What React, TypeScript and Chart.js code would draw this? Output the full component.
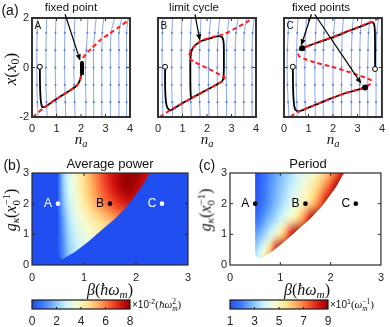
import React, { useEffect, useRef } from "react";
import { Chart, registerables } from "chart.js";

Chart.register(...registerables);

const W = 390;
const H = 327;
const SANS = '"Liberation Sans", Arial, Helvetica, sans-serif';
const SERIF = '"Liberation Serif", "Times New Roman", serif';
const TICK_COLOR = "#262626";

// ================= DATA =================
// ---- (a) phase portraits: n_a (x axis) vs x (y axis) ----
const phaseTicksX = [0, 1, 2, 3, 4];
const phaseTicksY = [-2, 0, 2];
const streamLevels = [-2, -1.4, -0.7, 0, 0.7, 1.4, 2];

const streamA = [
  [0.25, 0.22, 0.2, 0.2, 0.2, 0.21, 0.22],
  [0.62, 0.59, 0.57, 0.57, 0.57, 0.58, 0.6],
  [1.0, 0.98, 0.96, 0.95, 0.95, 0.96, 0.98],
  [1.38, 1.36, 1.34, 1.33, 1.33, 1.34, 1.36],
  [1.76, 1.74, 1.72, 1.71, 1.72, 1.73, 1.75],
  [2.2, 2.2, 2.19, 2.18, 2.22, 2.26, 2.28],
  [2.52, 2.52, 2.51, 2.51, 2.51, 2.56, 2.62],
  [2.85, 2.85, 2.85, 2.85, 2.85, 2.87, 2.93],
  [3.2, 3.2, 3.2, 3.2, 3.2, 3.23, 3.37],
  [3.55, 3.55, 3.55, 3.55, 3.55, 3.55, 3.66],
  [3.86, 3.86, 3.86, 3.86, 3.86, 3.86, 3.92],
];
const streamB = [
  [0.2, 0.19, 0.17, 0.17, 0.17, 0.18, 0.2],
  [0.6, 0.58, 0.56, 0.56, 0.56, 0.57, 0.59],
  [1.0, 0.97, 0.95, 0.95, 0.95, 0.96, 0.98],
  [1.36, 1.34, 1.32, 1.31, 1.31, 1.33, 1.36],
  [1.72, 1.7, 1.68, 1.68, 1.7, 1.72, 1.76],
  [2.08, 2.07, 2.06, 2.06, 2.07, 2.1, 2.15],
  [2.44, 2.43, 2.42, 2.42, 2.43, 2.46, 2.52],
  [2.8, 2.8, 2.79, 2.79, 2.8, 2.83, 2.9],
  [3.15, 3.15, 3.15, 3.15, 3.15, 3.18, 3.27],
  [3.5, 3.5, 3.5, 3.5, 3.5, 3.52, 3.62],
  [3.84, 3.84, 3.84, 3.84, 3.84, 3.86, 3.93],
];
const streamC = [
  [0.2, 0.17, 0.14, 0.13, 0.14, 0.17, 0.2],
  [0.54, 0.52, 0.5, 0.5, 0.52, 0.54, 0.57],
  [0.88, 0.86, 0.85, 0.85, 0.86, 0.88, 0.92],
  [1.28, 1.27, 1.26, 1.26, 1.27, 1.29, 1.33],
  [1.61, 1.6, 1.6, 1.6, 1.61, 1.63, 1.67],
  [2.0, 2.0, 2.0, 2.0, 2.01, 2.03, 2.08],
  [2.35, 2.35, 2.35, 2.35, 2.36, 2.38, 2.43],
  [2.75, 2.75, 2.75, 2.75, 2.76, 2.78, 2.83],
  [3.09, 3.09, 3.09, 3.09, 3.1, 3.12, 3.18],
  [3.42, 3.42, 3.42, 3.42, 3.43, 3.45, 3.52],
  [3.76, 3.76, 3.76, 3.76, 3.77, 3.79, 3.86],
];

// red dashed nullclines
const nullA_n = [0.04, 0.5, 1.0, 1.5, 1.85, 1.97, 2.02, 2.03, 2.08, 2.3, 2.44, 2.78, 3.18, 3.52, 3.9, 4.0];
const nullA_x = [-2, -1.62, -1.27, -0.95, -0.7, -0.48, -0.2, 0.1, 0.38, 0.65, 0.78, 1.1, 1.38, 1.61, 1.88, 1.95];
const nullB_n = [0.07, 0.5, 1.0, 1.5, 2.0, 2.45, 2.68, 2.72, 2.55, 2.0, 1.5, 1.32, 1.28, 1.36, 1.5, 1.75, 2.2, 2.7, 3.2, 3.6, 3.93];
const nullB_x = [-2, -1.72, -1.45, -1.17, -0.9, -0.66, -0.52, -0.4, -0.3, -0.02, 0.22, 0.35, 0.5, 0.72, 0.88, 1.08, 1.22, 1.35, 1.6, 1.82, 2.02];
const nullC_n = [0.27, 0.6, 1.0, 1.5, 2.0, 2.5, 3.0, 3.31, 3.5, 3.58, 3.5, 3.0, 2.62, 1.95, 1.28, 0.8, 0.62, 0.58, 0.62, 0.74, 1.2, 1.7, 2.21, 2.7, 3.2, 3.6, 3.88];
const nullC_x = [-1.98, -1.78, -1.62, -1.42, -1.22, -1.04, -0.9, -0.81, -0.68, -0.55, -0.48, -0.3, -0.17, 0.03, 0.2, 0.36, 0.45, 0.58, 0.7, 0.78, 0.95, 1.13, 1.32, 1.5, 1.7, 1.85, 2.0];

// black trajectories
const trajA_n = [0.32, 0.33, 0.36, 0.42, 0.55, 1.0, 1.5, 1.85, 1.97, 2.02, 2.03];
const trajA_x = [0.03, -0.8, -1.35, -1.6, -1.58, -1.27, -0.96, -0.71, -0.47, -0.2, 0.12];
const blobA_n = [2.03, 2.04, 2.04];
const blobA_x = [-0.22, 0, 0.18];
const trajB_n = [0.29, 0.29, 0.32, 0.38, 0.5, 0.9, 1.34, 2.0, 2.45, 2.64, 2.68, 2.69, 2.68, 2.62, 2.45, 2.2, 1.75, 1.5, 1.38, 1.33, 1.32, 1.33, 1.36, 1.5];
const trajB_x = [0.03, -0.8, -1.35, -1.62, -1.73, -1.5, -1.25, -0.9, -0.66, -0.52, -0.3, 0.4, 1.0, 1.22, 1.27, 1.2, 1.06, 0.88, 0.7, 0.45, -0.2, -1.0, -1.22, -1.16];
const trajC1_n = [0.36, 0.37, 0.4, 0.46, 0.6, 1.0, 1.5, 2.0, 2.5, 3.0, 3.31];
const trajC1_x = [0.03, -0.8, -1.4, -1.7, -1.78, -1.62, -1.42, -1.22, -1.04, -0.9, -0.81];
const trajC2_n = [3.72, 3.72, 3.71, 3.68, 3.6, 3.2, 2.7, 2.2, 1.7, 1.2, 0.74];
const trajC2_x = [-0.06, 0.8, 1.5, 1.75, 1.83, 1.68, 1.5, 1.3, 1.12, 0.95, 0.78];

// start points (open circles) and fixed points (filled)
const openA_n = [0.32];
const openA_x = [0.03];
const openB_n = [0.29];
const openB_x = [0.03];
const openC_n = [0.36, 3.72];
const openC_x = [0.03, -0.06];
const fixedC_n = [0.74, 3.31];
const fixedC_x = [0.78, -0.81];

// annotation arrows (tail above the frame, head in the plot), data coordinates
const arrowA = { tailN: [1.35], tailX: [2.15], headN: [1.97], headX: [0.27] };
const arrowB = { tailN: [1.51], tailX: [2.15], headN: [1.71], headX: [1.08] };
const arrowC = { tailN: [1.12, 1.25], tailX: [2.15, 2.15], headN: [0.7, 3.16], headX: [0.88, -0.66] };

// ---- (b), (c) maps over beta (x) and g_kappa (y) ----
const mapTicks = [0, 1, 2, 3];
const gridBeta = [0.5, 0.6, 0.7, 0.8, 0.9, 1.0, 1.1, 1.2, 1.3, 1.4, 1.5, 1.6, 1.7, 1.8, 1.9, 2.0, 2.1, 2.2, 2.3];
const gridG = [0, 0.5, 1.0, 1.5, 2.0, 2.5, 3.0];
// average power (x10^-2), rows follow gridG
const powerValues = [
  [0.2, 1.0, 1.8, 2.3, 2.6, 2.8, 3.0, 3.2, 3.4, 3.6, 3.8, 4.0, 4.2, 4.4, 4.6, 4.8, 5.0, 5.2, 5.4],
  [0.2, 1.2, 2.0, 2.5, 2.8, 3.0, 3.2, 3.4, 3.6, 3.8, 4.0, 4.2, 4.4, 4.6, 4.8, 5.0, 5.2, 5.4, 5.6],
  [0.2, 1.3, 2.2, 2.7, 3.1, 3.4, 3.7, 3.9, 4.1, 4.3, 4.5, 4.7, 4.9, 5.1, 5.3, 5.5, 5.7, 5.9, 6.0],
  [0.2, 1.5, 2.4, 3.0, 3.4, 3.8, 4.1, 4.4, 4.7, 5.0, 5.3, 5.6, 5.8, 6.0, 6.2, 6.3, 6.4, 6.5, 6.5],
  [0.3, 1.8, 2.7, 3.3, 3.8, 4.3, 4.8, 5.3, 5.7, 6.1, 6.4, 6.7, 7.0, 7.2, 7.3, 7.3, 7.2, 7.1, 7.0],
  [0.3, 2.0, 2.9, 3.5, 4.0, 4.6, 5.1, 5.6, 6.1, 6.6, 7.0, 7.4, 7.7, 7.9, 7.9, 7.7, 7.5, 7.3, 7.1],
  [0.3, 2.2, 3.0, 3.6, 4.2, 4.7, 5.2, 5.8, 6.3, 6.8, 7.2, 7.5, 7.8, 8.0, 8.0, 7.9, 7.7, 7.5, 7.3],
];
// period (x10^1), rows follow gridG
const periodValues = [
  [3.8, 4.8, 6.2, 8.0, 9, 9, 9, 9, 9, 9, 9, 9, 9, 9, 9, 9, 9, 9, 9],
  [3.2, 3.8, 4.6, 6.0, 8.0, 9, 9, 9, 9, 9, 9, 9, 9, 9, 9, 9, 9, 9, 9],
  [2.4, 2.8, 3.3, 3.9, 4.6, 5.4, 6.5, 8.0, 9, 9, 9, 9, 9, 9, 9, 9, 9, 9, 9],
  [1.6, 2.0, 2.5, 2.9, 3.3, 3.8, 4.3, 4.8, 5.4, 6.2, 7.2, 8.6, 9, 9, 9, 9, 9, 9, 9],
  [1.2, 1.6, 2.0, 2.4, 2.8, 3.2, 3.6, 4.0, 4.4, 4.8, 5.2, 5.8, 6.5, 7.4, 8.5, 9, 9, 9, 9],
  [1.1, 1.5, 1.9, 2.3, 2.6, 3.0, 3.3, 3.7, 4.0, 4.4, 4.8, 5.2, 5.7, 6.3, 7.0, 7.8, 8.8, 9, 9],
  [1.0, 1.4, 1.8, 2.2, 2.5, 2.8, 3.1, 3.4, 3.7, 4.0, 4.3, 4.6, 5.0, 5.4, 5.9, 6.5, 7.2, 8.0, 8.8],
];
// oscillating region outline (beta, g)
const regionBeta = [0.5, 2.27, 2.24, 2.11, 1.92, 1.79, 1.6, 1.34, 1.08, 0.83, 0.65, 0.58, 0.52, 0.5];
const regionG = [3, 3, 2.93, 2.55, 2.12, 1.85, 1.52, 1.14, 0.76, 0.43, 0.25, 0.18, 0.28, 0.4];
// marked parameter points
const pointNames = ["A", "B", "C"];
const pointBeta = [0.5, 1.5, 2.5];
const pointG = [2, 2, 2];
// colour bar ticks
const powerBarTicks = [0, 2, 4, 6, 8];
const periodBarTicks = [1, 3, 5, 7, 9];

// ================= STYLE =================
const CMAP = [
  [0.0, 32, 78, 240],
  [0.12, 62, 125, 255],
  [0.24, 135, 195, 255],
  [0.35, 205, 245, 250],
  [0.46, 246, 252, 212],
  [0.58, 255, 226, 142],
  [0.7, 255, 160, 86],
  [0.82, 245, 76, 40],
  [0.92, 210, 16, 14],
  [1.0, 150, 0, 0],
];
function cmap(t: number) {
  const v = Math.max(0, Math.min(1, t));
  for (let i = 1; i < CMAP.length; i++) {
    if (v <= CMAP[i][0]) {
      const a = CMAP[i - 1];
      const b = CMAP[i];
      const f = (v - a[0]) / (b[0] - a[0]);
      return [0, 1, 2].map((k) => Math.round(a[k + 1] + (b[k + 1] - a[k + 1]) * f));
    }
  }
  const l = CMAP[CMAP.length - 1];
  return [l[1], l[2], l[3]];
}
const BLUE_BG = `rgb(${CMAP[0][1]},${CMAP[0][2]},${CMAP[0][3]})`;
const STREAM = "rgba(70,115,215,0.8)";

// ================= PLUGINS =================
const framePlugin = {
  id: "frame",
  afterDatasetsDraw(chart: any, _a: any, o: any) {
    const { ctx, chartArea: a, scales } = chart;
    ctx.save();
    ctx.strokeStyle = o.color || "#333";
    ctx.lineWidth = 1;
    const seg = (x1: number, y1: number, x2: number, y2: number) => {
      ctx.beginPath();
      ctx.moveTo(x1, y1);
      ctx.lineTo(x2, y2);
      ctx.stroke();
    };
    const tl = o.tick || 0;
    if (tl) {
      const xs = scales.x;
      xs.ticks.forEach((t: any) => {
        const px = xs.getPixelForValue(t.value);
        if (px <= a.left + 1 || px >= a.right - 1) return;
        seg(px, a.bottom, px, a.bottom - tl);
        if (!o.bottomOnly) seg(px, a.top, px, a.top + tl);
      });
      if (!o.bottomOnly) {
        const ys = scales.y;
        ys.ticks.forEach((t: any) => {
          const py = ys.getPixelForValue(t.value);
          if (py <= a.top + 1 || py >= a.bottom - 1) return;
          seg(a.left, py, a.left + tl, py);
          seg(a.right, py, a.right - tl, py);
        });
      }
    }
    ctx.lineWidth = o.width || 1;
    ctx.strokeRect(a.left, a.top, a.right - a.left, a.bottom - a.top);
    ctx.restore();
  },
};

const arrowPlugin = {
  id: "arrows",
  afterDraw(chart: any, _a: any, o: any) {
    const { ctx, chartArea: a, scales } = chart;
    const x = scales.x;
    const y = scales.y;
    ctx.save();
    ctx.strokeStyle = "#000";
    ctx.fillStyle = "#000";
    ctx.lineWidth = 1.2;
    o.tailN.forEach((tn: number, i: number) => {
      const x1 = x.getPixelForValue(tn);
      const y1 = y.getPixelForValue(o.tailX[i]);
      const x2 = x.getPixelForValue(o.headN[i]);
      const y2 = y.getPixelForValue(o.headX[i]);
      const ang = Math.atan2(y2 - y1, x2 - x1);
      const hl = 6.5;
      const hw = 2.6;
      const bx = x2 - hl * Math.cos(ang);
      const by = y2 - hl * Math.sin(ang);
      ctx.beginPath();
      ctx.moveTo(x1, y1);
      ctx.lineTo(bx, by);
      ctx.stroke();
      ctx.beginPath();
      ctx.moveTo(x2, y2);
      ctx.lineTo(bx + hw * Math.sin(ang), by - hw * Math.cos(ang));
      ctx.lineTo(bx - hw * Math.sin(ang), by + hw * Math.cos(ang));
      ctx.closePath();
      ctx.fill();
    });
    if (o.letter) {
      ctx.font = `10px ${SANS}`;
      ctx.textAlign = "left";
      ctx.textBaseline = "top";
      ctx.fillStyle = "#111";
      ctx.fillText(o.letter, a.left + 2.5, a.top + 3);
    }
    ctx.restore();
  },
};

const heatPlugin = {
  id: "heat",
  beforeDatasetsDraw(chart: any, _a: any, o: any) {
    const { ctx, chartArea: a, scales } = chart;
    const x = scales.x;
    const y = scales.y;
    ctx.save();
    ctx.beginPath();
    ctx.rect(a.left, a.top, a.right - a.left, a.bottom - a.top);
    ctx.clip();
    if (o.background) {
      ctx.fillStyle = o.background;
      ctx.fillRect(a.left, a.top, a.right - a.left, a.bottom - a.top);
    }
    ctx.beginPath();
    regionBeta.forEach((b, i) => {
      const px = x.getPixelForValue(b);
      const py = y.getPixelForValue(regionG[i]);
      if (i) ctx.lineTo(px, py);
      else ctx.moveTo(px, py);
    });
    ctx.closePath();
    ctx.clip();
    const cols = gridBeta.length;
    const rows = gridG.length;
    const off = document.createElement("canvas");
    off.width = cols;
    off.height = rows;
    const octx = off.getContext("2d")!;
    const img = octx.createImageData(cols, rows);
    for (let r = 0; r < rows; r++) {
      const vals = o.values[rows - 1 - r];
      for (let c = 0; c < cols; c++) {
        const col = cmap((vals[c] - o.vmin) / (o.vmax - o.vmin));
        const k = (r * cols + c) * 4;
        img.data[k] = col[0];
        img.data[k + 1] = col[1];
        img.data[k + 2] = col[2];
        img.data[k + 3] = 255;
      }
    }
    octx.putImageData(img, 0, 0);
    const dx = (gridBeta[cols - 1] - gridBeta[0]) / (cols - 1);
    const dy = (gridG[rows - 1] - gridG[0]) / (rows - 1);
    const x0 = x.getPixelForValue(gridBeta[0] - dx / 2);
    const x1 = x.getPixelForValue(gridBeta[cols - 1] + dx / 2);
    const yTop = y.getPixelForValue(gridG[rows - 1] + dy / 2);
    const yBot = y.getPixelForValue(gridG[0] - dy / 2);
    ctx.imageSmoothingEnabled = true;
    (ctx as any).imageSmoothingQuality = "high";
    ctx.drawImage(off, x0, yTop, x1 - x0, yBot - yTop);
    ctx.restore();
  },
};

const pointLabelPlugin = {
  id: "ptlabels",
  afterDatasetsDraw(chart: any, _a: any, o: any) {
    const { ctx, scales } = chart;
    ctx.save();
    ctx.font = `12px ${SANS}`;
    ctx.textAlign = "center";
    ctx.textBaseline = "middle";
    pointNames.forEach((n, i) => {
      ctx.fillStyle = o.colors[i];
      ctx.fillText(n, scales.x.getPixelForValue(pointBeta[i]) - 10, scales.y.getPixelForValue(pointG[i]) + 0.5);
    });
    ctx.restore();
  },
};

const cbarPlugin = {
  id: "cbar",
  beforeDatasetsDraw(chart: any) {
    const { ctx, chartArea: a } = chart;
    const g = ctx.createLinearGradient(a.left, 0, a.right, 0);
    CMAP.forEach((s) => g.addColorStop(s[0], `rgb(${s[1]},${s[2]},${s[3]})`));
    ctx.save();
    ctx.fillStyle = g;
    ctx.fillRect(a.left, a.top, a.right - a.left, a.bottom - a.top);
    ctx.restore();
  },
};

// ================= CONFIG HELPERS =================
function pad(L: number, T: number, R: number, B: number, yw: number, xh: number) {
  return { left: L - yw, top: T, right: W - R, bottom: H - B - xh };
}

function axis(min: number, max: number, ticks: number[], o: any) {
  return {
    type: "linear",
    min,
    max,
    display: o.display !== false,
    afterBuildTicks: (s: any) => {
      s.ticks = ticks.map((v) => ({ value: v }));
    },
    grid: { display: false, drawTicks: false },
    border: { display: false },
    ticks: {
      display: o.show !== false,
      padding: o.pad,
      autoSkip: false,
      maxRotation: 0,
      minRotation: 0,
      color: TICK_COLOR,
      font: { family: SANS, size: o.size || 11 },
    },
    afterFit: (s: any) => {
      if (o.w !== undefined) s.width = o.w;
      if (o.h !== undefined) s.height = o.h;
    },
  };
}

function pts(xs: number[], ys: number[]) {
  return xs.map((v, i) => ({ x: v, y: ys[i] }));
}

function baseOptions(padding: any, scales: any, plugins: any) {
  return {
    animation: false,
    responsive: false,
    maintainAspectRatio: false,
    events: [],
    layout: { padding },
    scales,
    plugins: { legend: { display: false }, tooltip: { enabled: false }, title: { display: false }, ...plugins },
  };
}

function phaseConfig(p: any) {
  const datasets: any[] = [];
  if (p.fixedN) {
    datasets.push({
      data: pts(p.fixedN, p.fixedX),
      pointRadius: 3,
      pointBackgroundColor: "#000",
      pointBorderWidth: 0,
      showLine: false,
    });
  }
  datasets.push({
    data: pts(p.openN, p.openX),
    pointRadius: 2.5,
    pointBackgroundColor: "#fff",
    pointBorderColor: "#000",
    pointBorderWidth: 1,
    showLine: false,
  });
  if (p.blobN) {
    datasets.push({
      data: pts(p.blobN, p.blobX),
      showLine: true,
      borderColor: "#000",
      borderWidth: 4,
      borderCapStyle: "round",
      pointRadius: 0,
    });
  }
  datasets.push({
    data: pts(p.nullN, p.nullX),
    showLine: true,
    borderColor: "#ff1e1e",
    borderWidth: 2,
    borderDash: [4.5, 3],
    pointRadius: 0,
    tension: 0.25,
  });
  p.trajs.forEach((t: any) => {
    datasets.push({
      data: pts(t[0], t[1]),
      showLine: true,
      borderColor: "#000",
      borderWidth: 1.8,
      pointRadius: 0,
      tension: 0.2,
    });
  });
  p.stream.forEach((ns: number[]) => {
    datasets.push({
      data: pts(ns, streamLevels),
      showLine: true,
      borderColor: STREAM,
      borderWidth: 0.8,
      pointRadius: streamLevels.map((_, i) => (i === 0 || i === streamLevels.length - 1 ? 0 : 1.1)),
      pointBackgroundColor: STREAM,
      pointBorderWidth: 0,
      tension: 0.3,
    });
  });
  return {
    type: "scatter",
    data: { datasets },
    options: baseOptions(
      pad(p.L, 18, p.R, 117, 30, 20),
      {
        x: axis(0, 4, phaseTicksX, { pad: 5, h: 20 }),
        y: axis(-2, 2, phaseTicksY, { pad: 3, w: 30, show: p.showY }),
      },
      {
        frame: { width: 2, color: "#333", tick: 3 },
        arrows: { ...p.arrows, letter: p.letter },
      }
    ),
    plugins: [framePlugin, arrowPlugin],
  };
}

function mapConfig(m: any) {
  return {
    type: "scatter",
    data: {
      datasets: [
        {
          data: pts(pointBeta, pointG),
          pointRadius: 2.3,
          pointBackgroundColor: m.pointColors,
          pointBorderWidth: 0,
          showLine: false,
        },
      ],
    },
    options: baseOptions(
      pad(m.L, 173, m.R, 265, 30, 20),
      {
        x: axis(0, 3, mapTicks, { pad: 6, h: 20 }),
        y: axis(0, 3, mapTicks, { pad: 3, w: 30 }),
      },
      {
        heat: { values: m.values, vmin: m.vmin, vmax: m.vmax, background: m.background },
        frame: { width: 1.2, color: "#2a2a2a", tick: 3 },
        ptlabels: { colors: m.pointColors },
      }
    ),
    plugins: [heatPlugin, framePlugin, pointLabelPlugin],
  };
}

function barConfig(b: any) {
  return {
    type: "scatter",
    data: { datasets: [] },
    options: baseOptions(
      { left: b.L, top: 300, right: W - b.R, bottom: H - 309 - 16 },
      {
        x: axis(b.min, b.max, b.ticks, { pad: 5, h: 16, size: 12 }),
        y: axis(0, 1, [0, 1], { display: false }),
      },
      { frame: { width: 1.2, color: "#1a1a1a", tick: 2, bottomOnly: true } }
    ),
    plugins: [cbarPlugin, framePlugin],
  };
}

const layers = [
  () =>
    phaseConfig({
      L: 32, R: 130, stream: streamA, nullN: nullA_n, nullX: nullA_x,
      trajs: [[trajA_n, trajA_x]], blobN: blobA_n, blobX: blobA_x,
      openN: openA_n, openX: openA_x, arrows: arrowA, letter: "A", showY: true,
    }),
  () =>
    phaseConfig({
      L: 158, R: 256, stream: streamB, nullN: nullB_n, nullX: nullB_x,
      trajs: [[trajB_n, trajB_x]], openN: openB_n, openX: openB_x,
      arrows: arrowB, letter: "B", showY: false,
    }),
  () =>
    phaseConfig({
      L: 284, R: 383, stream: streamC, nullN: nullC_n, nullX: nullC_x,
      trajs: [[trajC1_n, trajC1_x], [trajC2_n, trajC2_x]], openN: openC_n, openX: openC_x,
      fixedN: fixedC_n, fixedX: fixedC_x, arrows: arrowC, letter: "C", showY: false,
    }),
  () =>
    mapConfig({
      L: 32, R: 188, values: powerValues, vmin: 0, vmax: 8, background: BLUE_BG,
      pointColors: ["#fff", "#000", "#fff"],
    }),
  () =>
    mapConfig({
      L: 230, R: 385, values: periodValues, vmin: 1, vmax: 9, background: null,
      pointColors: ["#000", "#000", "#000"],
    }),
  () => barConfig({ L: 32, R: 130, min: 0, max: 8, ticks: powerBarTicks }),
  () => barConfig({ L: 230, R: 328, min: 1, max: 9, ticks: periodBarTicks }),
];

// ================= COMPONENTS =================
function ChartLayer({ make }: { make: () => any }) {
  const ref = useRef<HTMLCanvasElement>(null);
  useEffect(() => {
    const chart = new Chart(ref.current as HTMLCanvasElement, make());
    return () => chart.destroy();
  }, []);
  return (
    <canvas
      ref={ref}
      width={W}
      height={H}
      style={{ position: "absolute", left: 0, top: 0, width: W, height: H }}
    />
  );
}

function T({ x, y, size = 12, serif = false, italic = false, rot = false, left = false, children }: any) {
  const tf = (left ? "translate(0,-50%)" : "translate(-50%,-50%)") + (rot ? " rotate(-90deg)" : "");
  return (
    <div
      style={{
        position: "absolute",
        left: x,
        top: y,
        transform: tf,
        fontSize: size,
        fontFamily: serif ? SERIF : SANS,
        fontStyle: italic ? "italic" : "normal",
        whiteSpace: "nowrap",
        lineHeight: 1,
        color: "#111",
      }}
    >
      {children}
    </div>
  );
}

const Sub = ({ children }: any) => (
  <span style={{ fontSize: "0.7em", verticalAlign: "-0.3em", lineHeight: 0 }}>{children}</span>
);
const Sup = ({ children }: any) => (
  <span style={{ fontSize: "0.7em", verticalAlign: "0.55em", lineHeight: 0 }}>{children}</span>
);
const SubSup = ({ sub, sup }: any) => (
  <span
    style={{
      display: "inline-flex",
      flexDirection: "column",
      fontSize: "0.68em",
      lineHeight: 0.95,
      verticalAlign: "0.55em",
      fontStyle: "normal",
    }}
  >
    <span>{sup}</span>
    <span>{sub}</span>
  </span>
);

const I = ({ children }: any) => <i>{children}</i>;

export default function App() {
  return (
    <div
      style={{
        position: "fixed",
        left: 0,
        top: 0,
        width: W,
        height: H,
        background: "#fff",
        overflow: "hidden",
      }}
    >
      {layers.map((m, i) => (
        <ChartLayer key={i} make={m} />
      ))}

      {/* panel (a) */}
      <T x={10} y={10} size={14}>(a)</T>
      <T x={71} y={8} size={11.5}>fixed point</T>
      <T x={194} y={8} size={11.5}>limit cycle</T>
      <T x={321} y={8} size={11.5}>fixed points</T>
      <T x={10} y={69} size={17} serif rot>
        <I>x</I>(<I>x</I>
        <Sub>0</Sub>)
      </T>
      {[81, 207, 333].map((cx) => (
        <T key={cx} x={cx} y={139} size={15} serif>
          <I>n</I>
          <Sub>
            <I>a</I>
          </Sub>
        </T>
      ))}

      {/* panel (b) */}
      <T x={12} y={165} size={14}>(b)</T>
      <T x={110} y={163} size={13}>Average power</T>
      <T x={11} y={210} size={16} serif rot>
        <I>g</I>
        <Sub>
          <I>κ</I>
        </Sub>
        (<I>x</I>
        <SubSup sub="0" sup="−1" />)
      </T>
      <T x={110} y={290} size={16} serif>
        <I>β</I>(<I>ħω</I>
        <Sub>
          <I>m</I>
        </Sub>
        )
      </T>
      <T x={132} y={305} size={10} left>
        ×10<Sup>-2</Sup>
        <span style={{ fontFamily: SERIF, fontSize: 11 }}>
          (<I>ħω</I>
          <SubSup sub={<I>m</I>} sup="2" />)
        </span>
      </T>

      {/* panel (c) */}
      <T x={207} y={165} size={14}>(c)</T>
      <T x={308} y={163} size={13}>Period</T>
      <T x={206} y={210} size={16} serif rot>
        <I>g</I>
        <Sub>
          <I>κ</I>
        </Sub>
        (<I>x</I>
        <SubSup sub="0" sup="−1" />)
      </T>
      <T x={307} y={290} size={16} serif>
        <I>β</I>(<I>ħω</I>
        <Sub>
          <I>m</I>
        </Sub>
        )
      </T>
      <T x={330} y={305} size={10} left>
        ×10<Sup>1</Sup>
        <span style={{ fontFamily: SERIF, fontSize: 11 }}>
          (<I>ω</I>
          <SubSup sub={<I>m</I>} sup="−1" />)
        </span>
      </T>
    </div>
  );
}
